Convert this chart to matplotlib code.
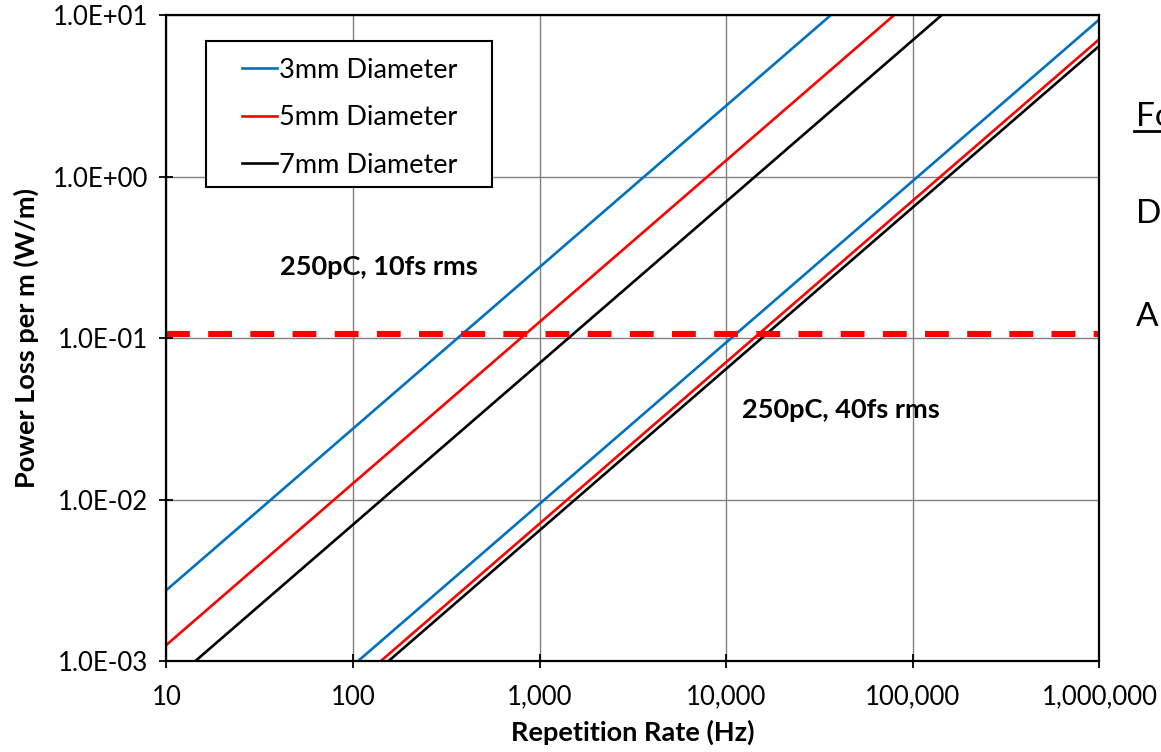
import matplotlib.pyplot as plt
from matplotlib.ticker import FuncFormatter, FixedLocator, NullLocator
from matplotlib.lines import Line2D
from matplotlib.patches import Rectangle

plt.rcParams['font.family'] = ['Lato', 'DejaVu Sans']

# ---------------- DATA ----------------
rep_rate = [10, 1000000]                   # Hz, line end points
labels = ['3mm Diameter', '5mm Diameter', '7mm Diameter']
colors = ['#0070C0', '#FF0000', '#000000']

# 250pC, 10fs rms (W/m at 10 Hz and 1 MHz)
loss_10fs = [[2.75e-3, 275.0],
             [1.26e-3, 126.0],
             [7.0e-4, 70.0]]
# 250pC, 40fs rms
loss_40fs = [[9.4e-5, 9.4],
             [7.1e-5, 7.1],
             [6.45e-5, 6.45]]

limit_value = 0.106                        # red dashed limit (W/m)

x_ticks = [10, 100, 1000, 10000, 100000, 1000000]
y_ticks = [1e-3, 1e-2, 1e-1, 1e0, 1e1]

# ---------------- PLOT ----------------
fig = plt.figure(figsize=(11.61, 7.52), dpi=100)
ax = fig.add_axes([0.1434, 0.121, 0.8036, 0.859])

for i in range(3):
    ax.plot(rep_rate, loss_10fs[i], color=colors[i], linewidth=1.9, label=labels[i])
for i in range(3):
    ax.plot(rep_rate, loss_40fs[i], color=colors[i], linewidth=1.9)

ax.axhline(limit_value, color='#FF0000', linewidth=4.4, dashes=(3.9, 3.0))

ax.set_xscale('log')
ax.set_yscale('log')
ax.set_xlim(10, 1000000)
ax.set_ylim(1e-3, 1e1)

ax.xaxis.set_major_locator(FixedLocator(x_ticks))
ax.yaxis.set_major_locator(FixedLocator(y_ticks))
ax.xaxis.set_minor_locator(NullLocator())
ax.yaxis.set_minor_locator(NullLocator())
ax.xaxis.set_major_formatter(FuncFormatter(lambda v, p: f'{int(round(v)):,}'))
ax.yaxis.set_major_formatter(FuncFormatter(lambda v, p: f'{v:.1E}'))

ax.grid(True, color='#808080', linewidth=1.0)
ax.set_axisbelow(True)
ax.tick_params(direction='inout', length=10, width=1.3, labelsize=18.5)
ax.tick_params(axis='x', pad=12)
ax.tick_params(axis='y', pad=8)
for s in ax.spines.values():
    s.set_linewidth(1.6)

ax.set_xlabel('Repetition Rate (Hz)', fontsize=19.5, fontweight='bold', labelpad=7)
ax.set_ylabel('Power Loss per m (W/m)', fontsize=19.5, fontweight='bold', labelpad=10)

ax.text(137, 0.275, '250pC, 10fs rms', fontsize=19.5, fontweight='bold', ha='center', va='center')
ax.text(41000, 0.0358, '250pC, 40fs rms', fontsize=19.5, fontweight='bold', ha='center', va='center')

# legend box drawn separately so the padding can match the original
ax.add_patch(Rectangle((0.0423, 0.734), 0.3066, 0.226, transform=ax.transAxes,
                       facecolor='white', edgecolor='black', linewidth=1.5, zorder=4))
leg = ax.legend(loc='upper left', bbox_to_anchor=(0.081, 0.934), fontsize=19.5,
                handlelength=1.3, handletextpad=0.05, labelspacing=0.83,
                borderpad=0, borderaxespad=0, frameon=False)
leg.set_zorder(5)

# cut-off slide text on the right
fig.text(1136 / 1161, 1 - 117 / 752, 'Fo', fontsize=24, va='center', ha='left')
fig.add_artist(Line2D([1134 / 1161, 1.0], [1 - 131 / 752] * 2, color='black', linewidth=2))
fig.text(1136 / 1161, 1 - 214 / 752, 'D', fontsize=24, va='center', ha='left')
fig.text(1136 / 1161, 1 - 317 / 752, 'A', fontsize=24, va='center', ha='left')

plt.savefig('out.png', dpi=100)
